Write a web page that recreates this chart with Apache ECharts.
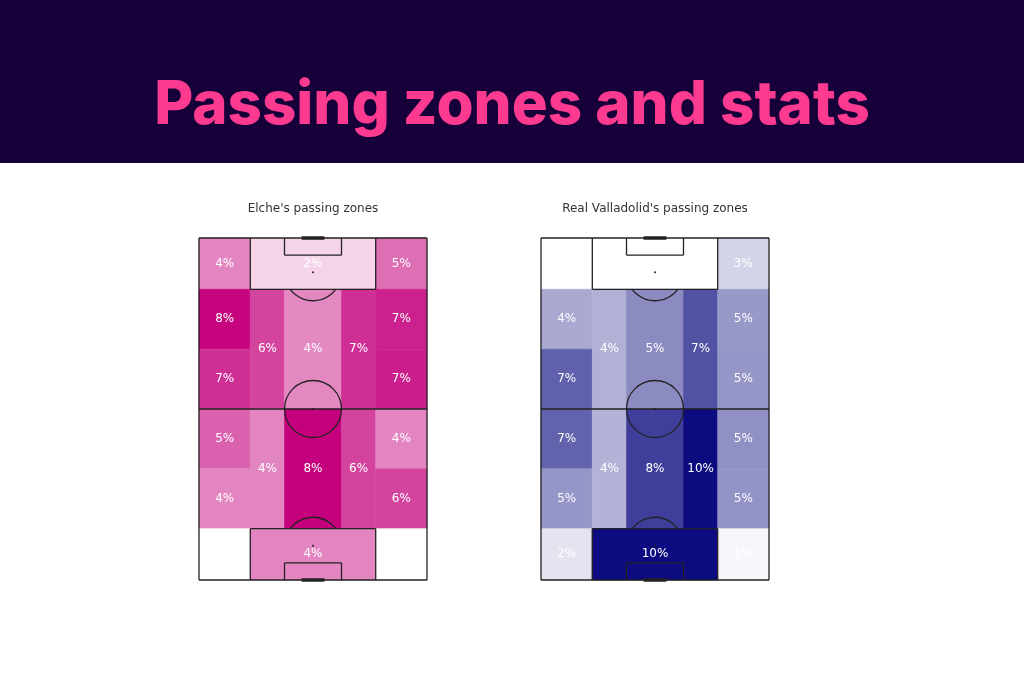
<!DOCTYPE html>
<html>
<head>
<meta charset="utf-8">
<script src="https://cdn.jsdelivr.net/npm/echarts@6/dist/echarts.min.js"></script>
<style>
html,body{margin:0;padding:0;background:#fff;}
#chart{width:1024px;height:683px;}
</style>
</head>
<body>
<div id="chart"></div>
<script>
// ---- Data ----
const mainTitle = "Passing zones and stats";
const teams = ["Elche's passing zones", "Real Valladolid's passing zones"];

// Zones in pitch units (80 wide x 120 long), order matches value arrays
const zones = [
  [0,0,18,18],[18,0,62,18],[62,0,80,18],
  [0,18,18,39],[0,39,18,60],[18,18,30,60],[30,18,50,60],[50,18,62,60],[62,18,80,39],[62,39,80,60],
  [0,60,18,81],[0,81,18,102],[18,60,30,102],[30,60,50,102],[50,60,62,102],[62,60,80,81],[62,81,80,102],
  [0,102,18,120],[18,102,62,120],[62,102,80,120]
];

// Share of passes per zone (%)
const elcheValues = [4.4,2.2,5.0, 8.0,6.8,6.2,4.3,6.8,7.2,7.3, 5.4,4.4,4.4,8.1,6.2,4.4,6.2, 1.0,4.4,1.0];
const valladolidValues = [1.0,1.0,2.6, 4.2,6.9,3.9,5.3,7.4,4.8,4.9, 6.8,4.9,3.8,8.1,10.0,5.1,5.0, 2.0,10.0,1.3];

// Pitch markings in pitch units
const pitchLines = [
  [0,0,80,0],[80,0,80,120],[80,120,0,120],[0,120,0,0],
  [0,60,80,60],
  [18,0,18,18],[18,18,62,18],[62,18,62,0],
  [30,0,30,6],[30,6,50,6],[50,6,50,0],
  [18,120,18,102],[18,102,62,102],[62,102,62,120],
  [30,120,30,114],[30,114,50,114],[50,114,50,120]
];
const goals = [[36,0,44,0],[36,120,44,120]];
// [cx, cy, r, startAngle, endAngle] (screen angles, radians)
const pitchArcs = [
  [40,60,10,0,2*Math.PI],
  [40,12,10,Math.asin(0.6),Math.PI-Math.asin(0.6)],
  [40,108,10,Math.PI+Math.asin(0.6),2*Math.PI-Math.asin(0.6)]
];
const spots = [[40,12],[40,60],[40,108]];

// ---- Chart ----
const chart = echarts.init(document.getElementById('chart'), null, {renderer:'canvas'});

const grids = [
  {left:199, top:238, width:228, height:342},
  {left:541, top:238, width:228, height:342}
];

function renderZone(params, api) {
  const p0 = api.coord([api.value(0), api.value(1)]);
  const p1 = api.coord([api.value(2), api.value(3)]);
  const v = api.value(4);
  const col = api.visual('color');
  return {
    type:'group',
    children:[
      {type:'rect', shape:{x:Math.min(p0[0],p1[0]), y:Math.min(p0[1],p1[1]), width:Math.abs(p1[0]-p0[0]), height:Math.abs(p1[1]-p0[1])},
       style:{fill:col, stroke:col, lineWidth:0.6}},
      {type:'text', z2:10, style:{text:Math.round(v)+'%', x:(p0[0]+p1[0])/2, y:(p0[1]+p1[1])/2, align:'center', verticalAlign:'middle',
        fill:'#ffffff', font:'12px "DejaVu Sans"'}}
    ]
  };
}
function renderLine(width) {
  return function(params, api) {
    const a = api.coord([api.value(0), api.value(1)]);
    const b = api.coord([api.value(2), api.value(3)]);
    return {type:'line', shape:{x1:a[0],y1:a[1],x2:b[0],y2:b[1]}, style:{stroke:'#222', lineWidth:width, lineCap:'butt'}};
  };
}
function renderArc(params, api) {
  const c = api.coord([api.value(0), api.value(1)]);
  const r = api.size([api.value(2), 0])[0];
  return {type:'arc', shape:{cx:c[0], cy:c[1], r:r, startAngle:api.value(3), endAngle:api.value(4), clockwise:true},
    style:{stroke:'#222', lineWidth:1.3, fill:null}};
}
function renderSpot(params, api) {
  const c = api.coord([api.value(0), api.value(1)]);
  return {type:'circle', shape:{cx:c[0], cy:c[1], r:1}, style:{fill:'#222'}};
}

const series = [];
const xAxes = [], yAxes = [];
const valueSets = [elcheValues, valladolidValues];
valueSets.forEach(function(vals, i) {
  xAxes.push({type:'value', gridIndex:i, min:0, max:80, show:false});
  yAxes.push({type:'value', gridIndex:i, min:0, max:120, inverse:true, show:false});
  series.push({type:'custom', name:teams[i], xAxisIndex:i, yAxisIndex:i, renderItem:renderZone, clip:false, z:2,
    encode:{x:[0,2], y:[1,3]},
    data:zones.map(function(z, k){ return z.concat([vals[k]]); })});
  series.push({type:'custom', xAxisIndex:i, yAxisIndex:i, renderItem:renderLine(1.3), clip:false, z:5, silent:true,
    encode:{x:[0,2], y:[1,3]}, data:pitchLines});
  series.push({type:'custom', xAxisIndex:i, yAxisIndex:i, renderItem:renderLine(3.5), clip:false, z:6, silent:true,
    encode:{x:[0,2], y:[1,3]}, data:goals});
  series.push({type:'custom', xAxisIndex:i, yAxisIndex:i, renderItem:renderArc, clip:false, z:5, silent:true,
    encode:{x:0, y:1}, data:pitchArcs});
  series.push({type:'custom', xAxisIndex:i, yAxisIndex:i, renderItem:renderSpot, clip:false, z:5, silent:true,
    encode:{x:0, y:1}, data:spots});
});

chart.setOption({
  animation:false,
  backgroundColor:'#ffffff',
  graphic:[
    {type:'rect', z:-10, shape:{x:0, y:0, width:1024, height:163}, style:{fill:'#17003a'}},
    {type:'text', z:10, style:{text:mainTitle, x:512, y:106, align:'center', verticalAlign:'middle',
      fill:'#fc3a8f', font:'800 60px Inter'}},
    {type:'text', z:10, style:{text:teams[0], x:313, y:209, align:'center', verticalAlign:'middle',
      fill:'#333333', font:'12px "DejaVu Sans"'}},
    {type:'text', z:10, style:{text:teams[1], x:655, y:209, align:'center', verticalAlign:'middle',
      fill:'#333333', font:'12px "DejaVu Sans"'}}
  ],
  grid:grids,
  xAxis:xAxes,
  yAxis:yAxes,
  visualMap:[
    {type:'continuous', show:false, seriesIndex:0, dimension:4, min:1, max:8.1, inRange:{color:['#ffffff','#c4007c']}},
    {type:'continuous', show:false, seriesIndex:5, dimension:4, min:1, max:10, inRange:{color:['#ffffff','#0c0c80']}}
  ],
  series:series
});
</script>
</body>
</html>
